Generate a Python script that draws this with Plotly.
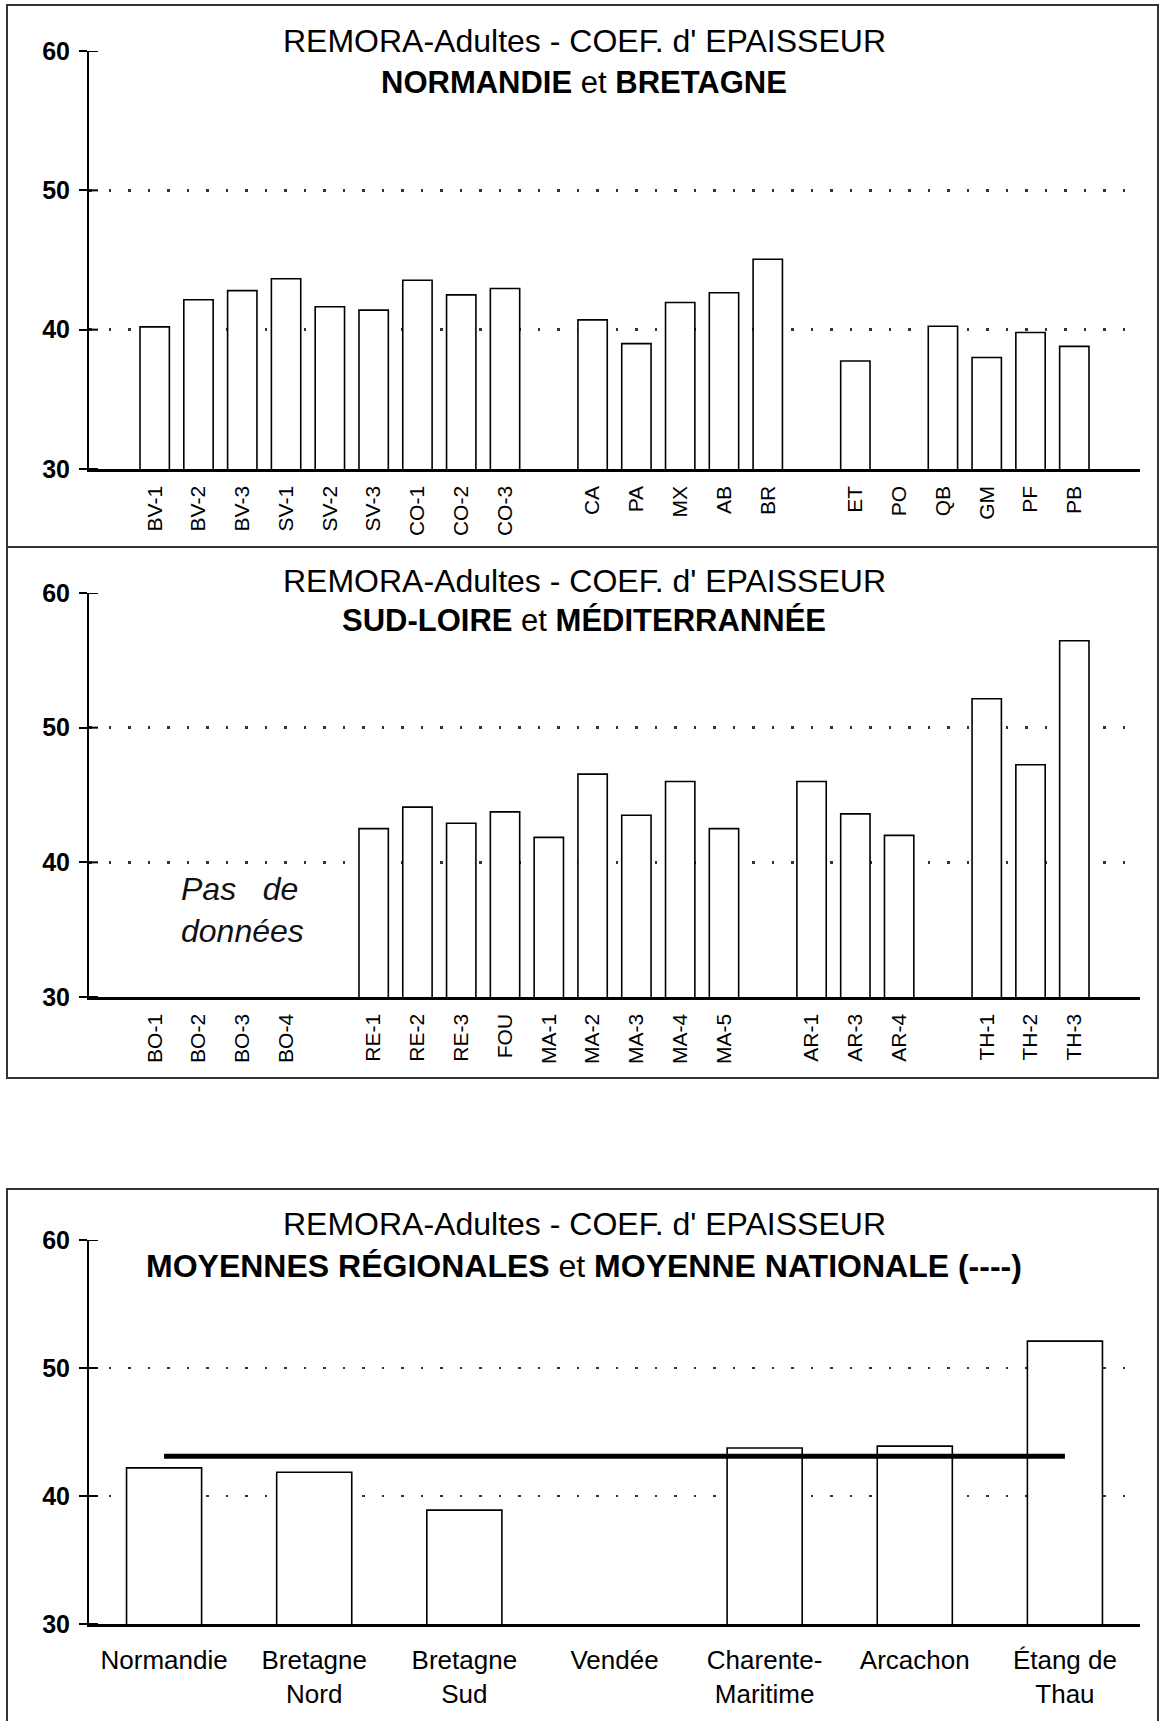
import plotly.graph_objects as go

# ---------------- data ----------------
cats1 = ["BV-1", "BV-2", "BV-3", "SV-1", "SV-2", "SV-3", "CO-1", "CO-2", "CO-3", "_g1",
         "CA", "PA", "MX", "AB", "BR", "_g2", "ET", "PO", "QB", "GM", "PF", "PB"]
vals1 = [40.2, 42.15, 42.8, 43.65, 41.65, 41.4, 43.55, 42.5, 42.95, None,
         40.7, 39.0, 41.95, 42.65, 45.05, None, 37.75, None, 40.25, 38.0, 39.8, 38.8]

cats2 = ["BO-1", "BO-2", "BO-3", "BO-4", "_g1", "RE-1", "RE-2", "RE-3", "FOU",
         "MA-1", "MA-2", "MA-3", "MA-4", "MA-5", "_g2", "AR-1", "AR-3", "AR-4", "_g3",
         "TH-1", "TH-2", "TH-3"]
vals2 = [None, None, None, None, None, 42.5, 44.1, 42.9, 43.75,
         41.85, 46.55, 43.5, 46.0, 42.5, None, 46.0, 43.6, 42.0, None,
         52.15, 47.25, 56.45]

cats3 = ["Normandie", "Bretagne Nord", "Bretagne Sud", "Vendée",
         "Charente-Maritime", "Arcachon", "Étang de Thau"]
labels3 = ["Normandie", "Bretagne<br>Nord", "Bretagne<br>Sud", "Vendée",
           "Charente-<br>Maritime", "Arcachon", "Étang de<br>Thau"]
vals3 = [42.2, 41.85, 38.9, None, 43.75, 43.9, 52.1]
national_mean = 43.1

yticks = [30, 40, 50, 60]
grid_vals = [40, 50]

title1 = "REMORA-Adultes - COEF. d' EPAISSEUR"
subtitles = ["<b>NORMANDIE</b> et <b>BRETAGNE</b>",
             "<b>SUD-LOIRE</b> et <b>MÉDITERRANNÉE</b>",
             "<b>MOYENNES RÉGIONALES</b> et <b>MOYENNE NATIONALE (----)</b>"]

# ---------------- layout helpers ----------------
W, H = 1162, 1721
FONT = "Liberation Sans, Arial, sans-serif"


def py(p):
    return 1 - p / H


xdom = [89 / W, 1140 / W]
panels_px = [(469, 51), (997, 593), (1624, 1240)]  # (y of 30, y of 60)

fig = go.Figure()
bar_style = dict(color="white", line=dict(color="black", width=1.6))
fig.add_bar(x=cats1, y=vals1, xaxis="x", yaxis="y", width=0.67, marker=bar_style,
            showlegend=False)
fig.add_bar(x=cats2, y=vals2, xaxis="x2", yaxis="y2", width=0.67, marker=bar_style,
            showlegend=False)
fig.add_bar(x=cats3, y=vals3, xaxis="x3", yaxis="y3", width=0.5, marker=bar_style,
            showlegend=False)
fig.add_scatter(x=cats3, y=[national_mean] * len(cats3), xaxis="x3", yaxis="y3",
                mode="lines", line=dict(color="black", width=5), showlegend=False)


def yaxis(i):
    b, t = panels_px[i]
    return dict(domain=[py(b), py(t)], range=[30, 60], anchor="x" if i == 0 else f"x{i+1}",
                tickmode="array", tickvals=yticks, ticks="outside", ticklen=8, tickwidth=2,
                tickcolor="black", showline=True, linewidth=2, linecolor="black",
                showgrid=False, zeroline=False, ticklabelstandoff=4, automargin=False,
                tickfont=dict(family=FONT, size=25, color="black", weight="bold"),
                minor=dict(tickmode="array", tickvals=grid_vals, showgrid=True,
                           gridcolor="#333", gridwidth=2.5, griddash="2.5px,17px", ticks=""),
                fixedrange=True)


def xaxis(i, cats, ticktext, rng, angle, size, standoff):
    return dict(domain=xdom, anchor="y" if i == 0 else f"y{i+1}", type="category",
                categoryorder="array", categoryarray=cats, tickmode="array",
                tickvals=cats, ticktext=ticktext, range=rng, tickangle=angle, ticks="",
                showline=True, linewidth=2.5, linecolor="black", showgrid=False,
                zeroline=False, ticklabelstandoff=standoff, automargin=False,
                tickfont=dict(family=FONT, size=size, color="black"), fixedrange=True)


tt1 = ["" if c.startswith("_") else c for c in cats1]
tt2 = ["" if c.startswith("_") else c for c in cats2]

fig.update_layout(
    width=W, height=H, margin=dict(l=0, r=0, t=0, b=0, autoexpand=False),
    paper_bgcolor="white", plot_bgcolor="white",
    font=dict(family=FONT, color="black"),
    xaxis=xaxis(0, cats1, tt1, [-1.5, 22.5], -90, 21, 6),
    xaxis2=xaxis(1, cats2, tt2, [-1.5, 22.5], -90, 21, 6),
    xaxis3=xaxis(2, cats3, labels3, [-0.5, 6.5], 0, 26, 11),
    yaxis=yaxis(0), yaxis2=yaxis(1), yaxis3=yaxis(2),
)

# titles
title_px = [(41, 83), (581, 621), (1224, 1266)]
annotations = []
for k, ((t1, t2), sub) in enumerate(zip(title_px, subtitles)):
    annotations.append(dict(text=title1, x=584 / W, y=py(t1), xref="paper", yref="paper",
                            xanchor="center", yanchor="middle", showarrow=False,
                            font=dict(family=FONT, size=32, color="black")))
    annotations.append(dict(text=sub, x=584 / W, y=py(t2), xref="paper", yref="paper",
                            xanchor="center", yanchor="middle", showarrow=False,
                            font=dict(family=FONT, size=31 if k < 2 else 32, color="black")))
annotations.append(dict(text="Pas\u00a0\u00a0\u00a0de<br>données", x=179 / W, y=py(910),
                        xref="paper", yref="paper", xanchor="left", yanchor="middle",
                        align="left", showarrow=False,
                        font=dict(family=FONT, size=32, color="#111", style="italic")))
fig.update_layout(annotations=annotations)

shapes = []
# panel frames
for top, bot in [(5, 547), (547, 1078), (1189, 1740)]:
    shapes.append(dict(type="rect", xref="paper", yref="paper", x0=7 / W, x1=1158 / W,
                       y0=py(bot), y1=py(top), line=dict(color="#333", width=2)))
# inner half of the crossing tick marks
for n in ["", "2", "3"]:
    for v in yticks:
        shapes.append(dict(type="line", xref=f"x{n} domain", yref=f"y{n}", x0=0,
                           x1=9 / (1140 - 89), y0=v, y1=v,
                           line=dict(color="black", width=2)))
fig.update_layout(shapes=shapes)

fig.write_html("out.html", config={"displayModeBar": False, "staticPlot": True},
               post_script="document.body.style.margin='0px';"
                           "document.body.style.overflow='hidden';")
